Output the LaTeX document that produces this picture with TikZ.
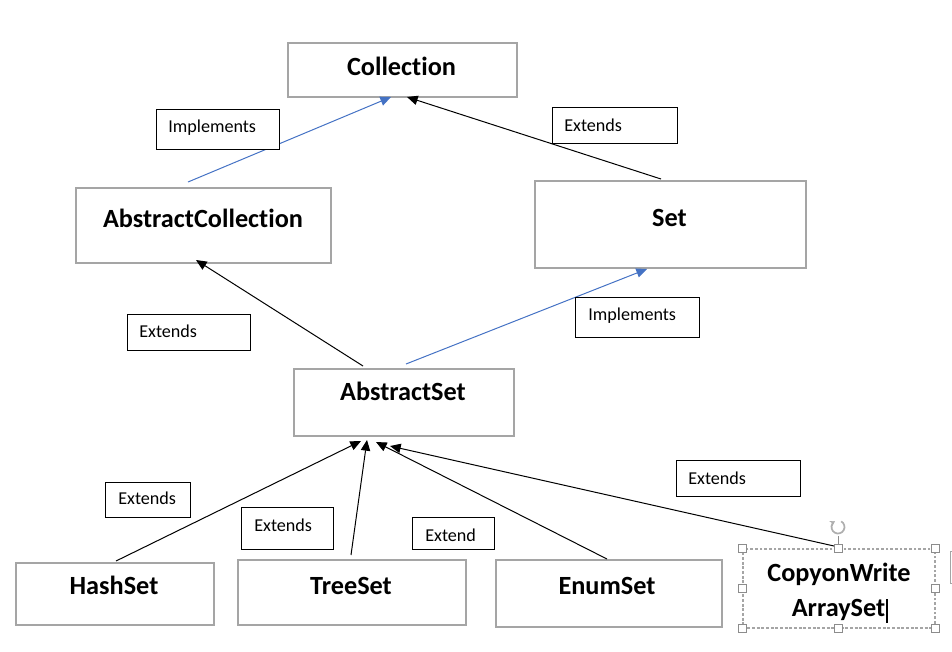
\documentclass[tikz,border=0pt]{standalone}
\usepackage{fontspec}
\setmainfont{Carlito}[RawFeature={-liga}]
\usetikzlibrary{arrows.meta,calc}
\definecolor{boxgray}{HTML}{A5A5A5}
\definecolor{implblue}{HTML}{4472C4}
\definecolor{handlegray}{HTML}{8C8C8C}
\newcommand\clsfont{\fontsize{19.7}{23}\selectfont\bfseries}
\newcommand\lblfont{\fontsize{13.6}{16}\selectfont}
\begin{document}
\begin{tikzpicture}[x=0.75pt,y=-0.75pt,
  cls/.style 2 args={draw=boxgray,line width=1.5pt,fill=white,rectangle,inner sep=0pt,anchor=north west,minimum width=#1*0.75pt,minimum height=#2*0.75pt},
  selbox/.style 2 args={draw=boxgray,line width=1.2pt,dash pattern=on 2.2pt off 1.3pt,fill=white,rectangle,inner sep=0pt,anchor=north west,minimum width=#1*0.75pt,minimum height=#2*0.75pt},
  lbl/.style 2 args={draw=black,line width=0.75pt,fill=white,rectangle,inner sep=0pt,anchor=north west,minimum width=#1*0.75pt,minimum height=#2*0.75pt},
  clstext/.style={anchor=base,inner sep=0pt,font=\clsfont},
  lbltext/.style={anchor=base west,inner sep=0pt,font=\lblfont},
  tip/.style={-{Triangle[length=8pt,width=7pt]}},
  ext/.style={draw=black,line width=0.75pt,tip},
  impl/.style={draw=implblue,line width=0.75pt,tip},
  handle/.style={draw=handlegray,fill=white,line width=0.75pt,rectangle,inner sep=0pt,minimum size=8*0.75pt}
]
\useasboundingbox (0,0) rectangle (952,651);

% class boxes
\node[cls={229}{54}] (col) at (287,42) {};
\node[cls={255}{75}] (ac) at (75,187) {};
\node[cls={271}{87}] (set) at (534,180) {};
\node[cls={220}{67}] (as) at (293,368) {};
\node[cls={198}{62}] (hs) at (15,562) {};
\node[cls={228}{65}] (ts) at (237,559) {};
\node[cls={226}{67}] (es) at (495,559) {};
\node[selbox={192}{79}] (cw) at (742,548) {};

% class names
\node[clstext] (tcol) at (401.5,75) {Collection};
\node[clstext] (tac) at (203,227) {AbstractCollection};
\node[clstext] (tset) at (669.5,226) {Set};
\node[clstext] (tas) at (403,400) {AbstractSet};
\node[clstext] (ths) at (114,594) {HashSet};
\node[clstext] (tts) at (351,594) {TreeSet};
\node[clstext] (tes) at (607,594) {EnumSet};
\node[clstext] (tcw1) at (839,581) {CopyonWrite};
\node[clstext] (tcw2) at (838.5,616) {ArraySet};

% connectors
\draw[impl] ($(ac.north west)+(113,-5)$) -- ($(col.south west)+(104,-1)$);
\draw[ext]  ($(set.north west)+(127,-1)$) -- ($(col.south west)+(120,-1)$);
\draw[ext]  ($(as.north west)+(70,-2)$) -- ($(ac.south west)+(121,-4)$);
\draw[impl] ($(as.north west)+(113,-4)$) -- ($(set.south west)+(113,0)$);
\draw[ext]  ($(hs.north west)+(101,-1)$) -- ($(as.south west)+(68,4)$);
\draw[ext]  ($(ts.north west)+(114,-4)$) -- ($(as.south west)+(74,3)$);
\draw[ext]  ($(es.north west)+(112,0)$) -- ($(as.south west)+(83,5)$);
\draw[ext]  ($(cw.north west)+(92,-2)$) -- ($(as.south west)+(97,9)$);

% relation labels
\node[lbl={123}{40}] (l1) at (156,109) {};
\node[lbltext] (tl1) at (168,132) {Implements};
\node[lbl={125}{36}] (l2) at (552,107) {};
\node[lbltext] (tl2) at (564,131) {Extends};
\node[lbl={123}{36}] (l3) at (127,314) {};
\node[lbltext] (tl3) at (139,337) {Extends};
\node[lbl={124}{40}] (l4) at (575,297) {};
\node[lbltext] (tl4) at (588,320) {Implements};
\node[lbl={85}{35}] (l5) at (105,482) {};
\node[lbltext] (tl5) at (118,504) {Extends};
\node[lbl={92}{42}] (l6) at (241,507) {};
\node[lbltext] (tl6) at (254,531) {Extends};
\node[lbl={82}{32}] (l7) at (412,517) {};
\node[lbltext] (tl7) at (425,541) {Extend};
\node[lbl={124}{36}] (l8) at (676,460) {};
\node[lbltext] (tl8) at (688,484) {Extends};

% selection handles of the CopyonWriteArraySet box
\draw[handlegray,line width=0.75pt] (cw.north) -- ++(0,-12);
\draw[handlegray!70,line width=1.3pt,-{Stealth[length=3.5pt,width=4.5pt]}] ([shift={(838,527)}]-60:6.5) arc[start angle=-60,end angle=240,radius=6.5];
\node[handle] (h1) at (cw.north west) {};
\node[handle] (h2) at (cw.north) {};
\node[handle] (h3) at (cw.north east) {};
\node[handle] (h4) at (cw.west) {};
\node[handle] (h5) at (cw.east) {};
\node[handle] (h6) at (cw.south west) {};
\node[handle] (h7) at (cw.south) {};
\node[handle] (h8) at (cw.south east) {};
\draw[black,line width=0.9pt] (887,599) -- (887,623);
\draw[boxgray,line width=0.75pt] (952,551) -- (950.5,551) -- (950.5,583) -- (952,583);
\end{tikzpicture}
\end{document}
